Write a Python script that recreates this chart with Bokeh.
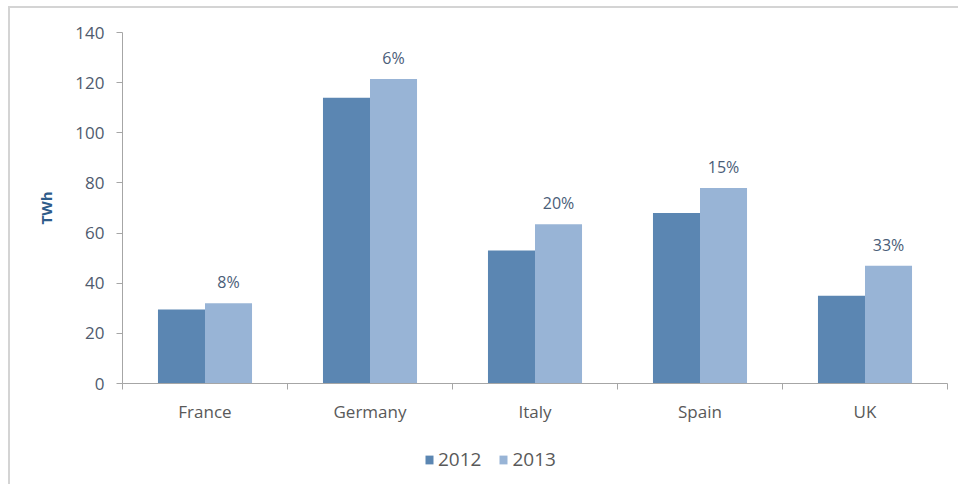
from bokeh.plotting import figure
from bokeh.models import ColumnDataSource, FixedTicker, Legend, LegendItem, Range1d
from bokeh.layouts import column
from bokeh.core.properties import value
from bokeh.embed import file_html
from bokeh.resources import INLINE

categories = ["France", "Germany", "Italy", "Spain", "UK"]
values_2012 = [29.5, 114, 53, 68, 35]
values_2013 = [32, 121.5, 63.5, 78, 47]
growth_labels = ["8%", "6%", "20%", "15%", "33%"]
y_ticks = [0, 20, 40, 60, 80, 100, 120, 140]
series_names = ["2012", "2013"]

FONT = "Open Sans"
C2012 = "#5b86b2"
C2013 = "#98b4d6"
BORDER = "2px solid #d4d4d4"

n = len(categories)
centers = [i + 0.5 for i in range(n)]
bw = 0.285
src = ColumnDataSource(dict(
    x12=[c - bw / 2 for c in centers],
    x13=[c + bw / 2 for c in centers],
    v12=values_2012,
    v13=values_2013,
    lab=growth_labels,
))

p = figure(width=950, height=430, output_backend="svg", toolbar_location=None,
           x_range=Range1d(0, n), y_range=Range1d(0, 140),
           min_border_left=112, min_border_right=13, min_border_top=24, min_border_bottom=55)
p.styles = {"border-top": BORDER, "border-left": BORDER}
p.outline_line_color = None
p.xgrid.visible = False
p.ygrid.visible = False

r12 = p.vbar(x="x12", top="v12", width=bw, source=src, color=C2012, line_color=None)
r13 = p.vbar(x="x13", top="v13", width=bw, source=src, color=C2013, line_color=None)

p.text(x="x13", y="v13", text="lab", source=src, y_offset=-21,
       text_align="center", text_baseline="middle", text_font=value(FONT),
       text_font_size="16px", text_color="#4a5d78")

xa = p.xaxis[0]
xa.ticker = FixedTicker(ticks=centers, minor_ticks=list(range(n + 1)))
xa.major_label_overrides = {c: cat for c, cat in zip(centers, categories)}
xa.major_tick_out = 0
xa.major_tick_in = 0
xa.minor_tick_out = 6
xa.minor_tick_in = 0
xa.minor_tick_line_color = "#a6a6a6"
xa.axis_line_color = "#a6a6a6"
xa.major_label_text_font = FONT
xa.major_label_text_font_size = "17px"
xa.major_label_text_color = "#595959"
xa.major_label_standoff = 10

ya = p.yaxis[0]
ya.ticker = FixedTicker(ticks=y_ticks)
ya.minor_tick_line_color = None
ya.major_tick_out = 6
ya.major_tick_in = 0
ya.major_tick_line_color = "#a6a6a6"
ya.axis_line_color = "#a6a6a6"
ya.major_label_text_font = FONT
ya.major_label_text_font_size = "17px"
ya.major_label_text_color = "#4f5b6e"
ya.major_label_standoff = 12
ya.axis_label = "TWh"
ya.axis_label_text_font = FONT
ya.axis_label_text_font_style = "bold"
ya.axis_label_text_font_size = "15px"
ya.axis_label_text_color = "#2e5c8a"
ya.axis_label_standoff = 16

# legend strip
lp = figure(width=950, height=48, output_backend="svg", toolbar_location=None,
            x_range=Range1d(0, 1), y_range=Range1d(0, 1),
            x_axis_location=None, y_axis_location=None,
            min_border_left=0, min_border_right=0, min_border_top=0, min_border_bottom=0)
lp.styles = {"border-left": BORDER}
lp.grid.visible = False
lp.outline_line_color = None
hidden = ColumnDataSource(dict(x=[5], top=[0]))
l12 = lp.vbar(x="x", top="top", width=0.1, source=hidden, color=C2012, line_color=None)
l13 = lp.vbar(x="x", top="top", width=0.1, source=hidden, color=C2013, line_color=None)
legend = Legend(items=[LegendItem(label=series_names[0], renderers=[l12]),
                       LegendItem(label=series_names[1], renderers=[l13])],
                orientation="horizontal", location=(302, 12),
                padding=0, margin=0, spacing=17, glyph_width=10, glyph_height=11,
                label_standoff=4, label_text_font=FONT, label_text_font_size="19px",
                label_text_color="#595959", border_line_color=None,
                background_fill_alpha=0)
lp.add_layout(legend, "center")

layout = column(p, lp, spacing=0)
layout.margin = (6, 0, 0, 8)

open("out.html", "w").write(file_html(layout, INLINE))
